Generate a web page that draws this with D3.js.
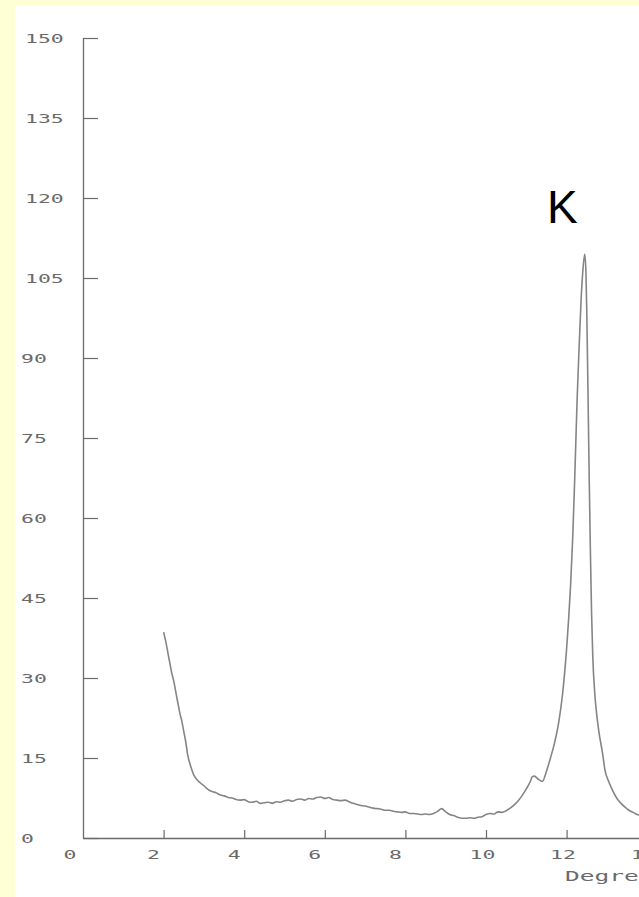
<!DOCTYPE html>
<html>

<head>
	<script type="text/javascript" src="https://d3js.org/d3.v7.min.js"></script>
	<style>
		body { margin: 0; background: #ffffd6; overflow: hidden; }
		svg { display: block; }
	</style>
</head>

<body>
	<svg height="897" width="639"></svg>
	<script>
		// diffraction scan (degrees, counts)
		var degrees = [
			2.00, 2.05, 2.10, 2.15, 2.20, 2.25, 2.30, 2.35, 2.40, 2.45, 2.50, 2.55, 2.60, 2.65, 2.70, 2.75, 2.80, 2.90,
			3.00, 3.10, 3.20, 3.30, 3.40, 3.50, 3.60, 3.70, 3.80, 3.90,
			4.00, 4.10, 4.20, 4.30, 4.40, 4.50, 4.60, 4.70, 4.80, 4.90,
			5.00, 5.10, 5.20, 5.30, 5.40, 5.50, 5.60, 5.70, 5.80, 5.90,
			6.00, 6.10, 6.20, 6.30, 6.40, 6.50, 6.60, 6.70, 6.80, 6.90,
			7.00, 7.10, 7.20, 7.30, 7.40, 7.50, 7.60, 7.70, 7.80, 7.90,
			8.00, 8.10, 8.20, 8.30, 8.40, 8.50, 8.60, 8.70, 8.80, 8.90,
			9.00, 9.10, 9.20, 9.30, 9.40, 9.50, 9.60, 9.70, 9.80, 9.90,
			10.00, 10.10, 10.20, 10.30, 10.40, 10.50, 10.60, 10.70, 10.80, 10.90,
			11.00, 11.10, 11.15, 11.20, 11.30, 11.40, 11.50, 11.60, 11.70, 11.80, 11.90,
			12.00, 12.05, 12.10, 12.15, 12.20, 12.26, 12.30, 12.36, 12.40, 12.45, 12.48, 12.50, 12.53, 12.56, 12.59,
			12.62, 12.65, 12.70, 12.75, 12.80, 12.90, 12.95,
			13.05, 13.15, 13.25, 13.35, 13.45, 13.55, 13.65, 13.75, 13.85
		];
		var counts = [
			38.6, 37, 35, 33, 31, 29.5, 27.5, 25.5, 23.5, 22, 20, 18, 15.5, 14, 12.8, 11.8, 11.2, 10.4,
			9.8, 9.1, 8.7, 8.5, 8.1, 7.9, 7.6, 7.5, 7.2, 7.1,
			7.2, 6.8, 6.7, 6.9, 6.5, 6.6, 6.7, 6.5, 6.8, 6.7,
			7.0, 7.1, 6.9, 7.2, 7.3, 7.1, 7.4, 7.3, 7.6, 7.7,
			7.4, 7.6, 7.2, 7.1, 7.0, 7.1, 6.8, 6.5, 6.3, 6.1,
			6.0, 5.8, 5.6, 5.5, 5.4, 5.2, 5.2, 5.0, 4.9, 4.8,
			4.9, 4.6, 4.6, 4.5, 4.4, 4.5, 4.4, 4.6, 5.0, 5.5,
			4.9, 4.4, 4.2, 3.9, 3.7, 3.7, 3.8, 3.7, 3.9, 4.0,
			4.4, 4.6, 4.5, 4.9, 4.8, 5.1, 5.6, 6.2, 7.0, 8.0,
			9.2, 10.6, 11.5, 11.6, 11.0, 10.6, 12.5, 15.0, 17.8, 21.5, 27,
			35.5, 41, 47.5, 56, 67, 82, 90, 101, 106, 109.5, 106, 99, 84, 68, 54,
			42, 34, 27, 23, 20, 15.5, 12.8,
			10.5, 8.8, 7.4, 6.5, 5.8, 5.2, 4.8, 4.4, 4.2
		];
		var xTicks = [0, 2, 4, 6, 8, 10, 12, 14];
		var yTicks = [0, 15, 30, 45, 60, 75, 90, 105, 120, 135, 150];
		var xTitle = "Degrees";
		var peakLabel = "K";

		var data = degrees.map((d, i) => ({ x: d, y: counts[i] }));

		var svg = d3.select("svg");
		var ink = "#6a6a6a";

		// white paper area inside the yellow frame
		svg.append("rect")
			.attr("x", 15).attr("y", 6)
			.attr("width", 639 - 15).attr("height", 897 - 6)
			.attr("fill", "#ffffff");

		var x = d3.scaleLinear()
			.domain([0, 14])
			.range([83, 83 + 14 * 40.3]);

		var y = d3.scaleLinear()
			.domain([0, 150])
			.range([838, 38]);

		var sx = 1.65; // wide plotter lettering

		// y axis, ticks pointing inward
		var yAxis = svg.append("g")
			.attr("transform", `translate(${x(0)},0)`)
			.call(d3.axisLeft(y).tickValues(yTicks).tickSizeInner(-15).tickSizeOuter(0));
		yAxis.select(".domain").attr("stroke", ink).attr("stroke-width", 1.3);
		yAxis.selectAll(".tick line").attr("stroke", ink).attr("stroke-width", 1.2);
		yAxis.selectAll(".tick text")
			.attr("x", d => (d >= 100 ? 25 : 21) - x(0))
			.attr("dy", "0.38em")
			.attr("transform", `scale(${sx},1)`)
			.attr("x", function (d) { return ((d >= 100 ? 25 : 21) - x(0)) / sx; })
			.attr("text-anchor", "start")
			.attr("fill", ink)
			.attr("font-family", "DejaVu Sans Mono")
			.attr("font-size", 13);

		// x axis, ticks pointing up
		var xAxis = svg.append("g")
			.attr("transform", `translate(0,${y(0)})`)
			.call(d3.axisBottom(x).tickValues(xTicks).tickSizeInner(-8).tickSizeOuter(0));
		xAxis.select(".domain").attr("stroke", ink).attr("stroke-width", 1.3);
		xAxis.selectAll(".tick line").attr("stroke", ink).attr("stroke-width", 1.2)
			.attr("display", d => d === 0 ? "none" : null);
		xAxis.selectAll(".tick text")
			.attr("x", d => (d === 0 ? -20 : -17) / sx)
			.attr("y", 21)
			.attr("dy", 0)
			.attr("transform", `scale(${sx},1)`)
			.attr("text-anchor", "start")
			.attr("fill", ink)
			.attr("font-family", "DejaVu Sans Mono")
			.attr("font-size", 13);

		svg.append("text")
			.attr("transform", `translate(565,881) scale(1.75,1)`)
			.attr("fill", ink)
			.attr("font-family", "DejaVu Sans Mono")
			.attr("font-size", 14)
			.text(xTitle);

		// the scan
		var line = d3.line()
			.curve(d3.curveMonotoneX)
			.x(d => x(d.x))
			.y(d => y(d.y));

		svg.append("path")
			.datum(data)
			.attr("fill", "none")
			.attr("stroke", "#858585")
			.attr("stroke-width", 1.6)
			.attr("stroke-linejoin", "round")
			.attr("d", line);

		svg.append("text")
			.attr("x", 547)
			.attr("y", 223)
			.attr("fill", "#000")
			.attr("font-family", "Liberation Sans, Arial")
			.attr("font-size", 46)
			.text(peakLabel);

	</script>
</body>

</html>
